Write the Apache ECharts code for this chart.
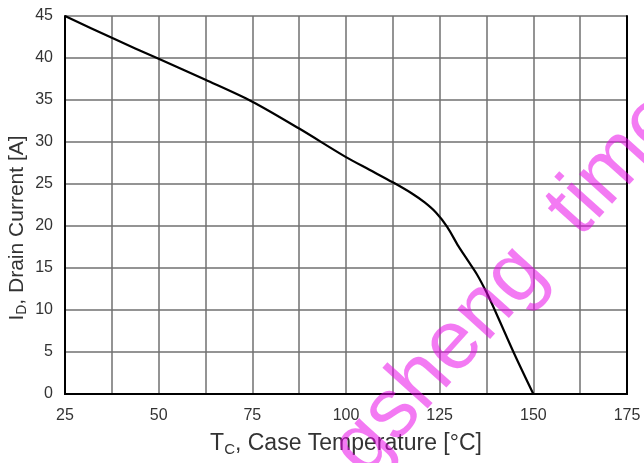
<!DOCTYPE html>
<html>
<head>
<meta charset="utf-8">
<script src="https://cdn.jsdelivr.net/npm/echarts@6/dist/echarts.min.js"></script>
<style>
html,body{margin:0;padding:0;background:#fff;}
#c{width:644px;height:463px;}
</style>
</head>
<body>
<div id="c"></div>
<script>
// Case temperature [°C]
var temps = [25, 37.5, 50, 62.5, 75, 87.5, 100, 106.25, 112.5, 117.5, 121, 124, 127, 130, 132.5, 135, 137.5, 140, 145, 150];
// Drain current [A]
var currents = [45, 42.4, 39.9, 37.4, 34.8, 31.6, 28.2, 26.7, 25.2, 23.9, 22.8, 21.6, 19.9, 17.6, 15.9, 14.2, 12.1, 9.7, 4.7, 0];
var xTicks = [25, 50, 75, 100, 125, 150, 175];
var yTicks = [0, 5, 10, 15, 20, 25, 30, 35, 40, 45];
var watermark = 'gsheng  time';

var pts = temps.map(function (t, i) { return [t, currents[i]]; });
var font = 'Liberation Sans, Arial, sans-serif';
var gridColor = '#707070';
var txt = '#333';

var chart = echarts.init(document.getElementById('c'));
chart.setOption({
  animation: false,
  backgroundColor: '#fff',
  grid: { left: 65, right: 17, top: 16, bottom: 69, containLabel: false, outerBoundsMode: 'none' },
  xAxis: [{
    type: 'value', min: 25, max: 175, interval: 12.5,
    axisLine: { show: true, onZero: false, lineStyle: { color: '#000', width: 2 } },
    axisTick: { show: false },
    axisLabel: {
      margin: 14, color: txt, fontSize: 16, fontFamily: font,
      showMinLabel: true, showMaxLabel: true,
      formatter: function (v) { return xTicks.indexOf(v) >= 0 ? String(v) : ''; }
    },
    splitLine: { show: true, lineStyle: { color: gridColor, width: 1.5 } },
    name: '{n|T}{s|C}{n|, Case Temperature [°C]}',
    nameLocation: 'middle', nameGap: 37, nameMoveOverlap: false,
    nameTextStyle: {
      rich: {
        n: { fontSize: 23, fontFamily: font, color: txt, lineHeight: 26 },
        s: { fontSize: 15, fontFamily: font, color: txt, lineHeight: 15, verticalAlign: 'bottom' }
      }
    }
  }, {
    type: 'value', min: 25, max: 175, position: 'top',
    axisLine: { show: true, lineStyle: { color: '#000', width: 2 } },
    axisTick: { show: false }, axisLabel: { show: false }, splitLine: { show: false }
  }],
  yAxis: [{
    type: 'value', min: 0, max: 45, interval: 5,
    axisLine: { show: true, onZero: false, lineStyle: { color: '#000', width: 2 } },
    axisTick: { show: false },
    axisLabel: {
      margin: 12, color: txt, fontSize: 16, fontFamily: font,
      formatter: function (v) { return yTicks.indexOf(v) >= 0 ? String(v) : ''; }
    },
    splitLine: { show: true, lineStyle: { color: gridColor, width: 1.5 } },
    name: '{n|I}{s|D}{n|, Drain Current [A]}',
    nameLocation: 'middle', nameGap: 36, nameMoveOverlap: false,
    nameTextStyle: {
      padding: [0, 46, 0, 0],
      rich: {
        n: { fontSize: 21, fontFamily: font, color: txt, lineHeight: 24 },
        s: { fontSize: 14, fontFamily: font, color: txt, lineHeight: 14, verticalAlign: 'bottom' }
      }
    }
  }, {
    type: 'value', min: 0, max: 45, position: 'right',
    axisLine: { show: true, lineStyle: { color: '#000', width: 2 } },
    axisTick: { show: false }, axisLabel: { show: false }, splitLine: { show: false }
  }],
  series: [{
    type: 'line', xAxisIndex: 0, yAxisIndex: 0,
    data: pts, showSymbol: false, smooth: 0.3,
    lineStyle: { color: '#000', width: 2.2 }, z: 5
  }],
  graphic: [{
    type: 'text', x: 316, y: 435, rotation: 48 * Math.PI / 180, z: 100,
    silent: true,
    style: {
      text: watermark, font: '84px ' + font,
      fill: 'rgba(232,0,232,0.52)', textAlign: 'left', textVerticalAlign: 'alphabetic'
    }
  }]
});
</script>
</body>
</html>
